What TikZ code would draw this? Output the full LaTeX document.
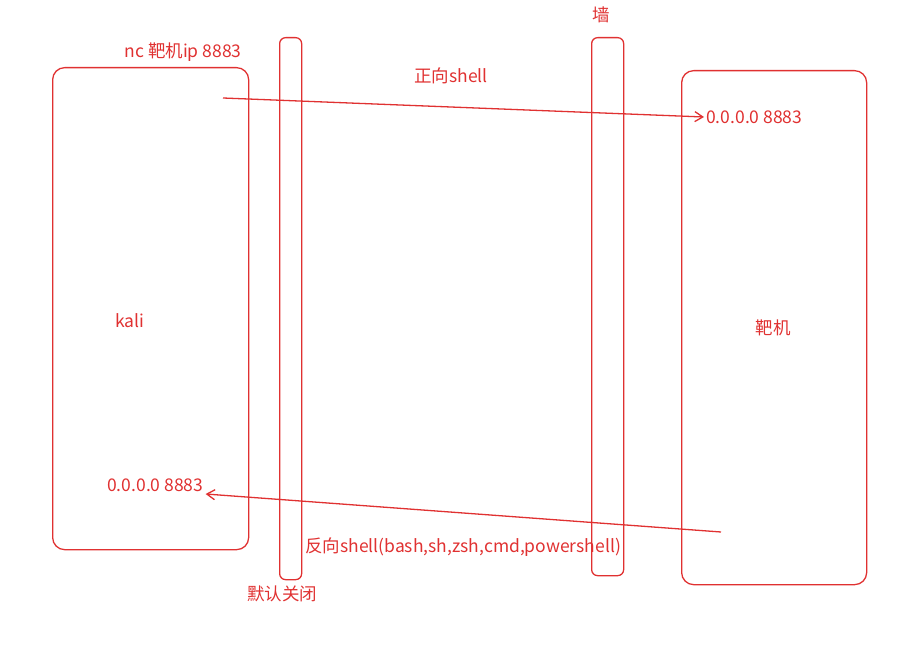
\documentclass[tikz,border=0pt]{standalone}
\usepackage{fontspec}
\setmainfont{Noto Sans CJK SC}
\usetikzlibrary{arrows.meta}
\definecolor{exred}{HTML}{E03131}
\begin{document}
\begin{tikzpicture}[x=1pt,y=-1pt,
  box/.style={draw=exred,line width=1.3pt,rounded corners=12pt,inner sep=0pt,anchor=north west},
  wall/.style={draw=exred,line width=1.3pt,rounded corners=6pt,inner sep=0pt,anchor=north west},
  lbl/.style={text=exred,font=\fontsize{17.5}{20}\selectfont,inner sep=0pt},
  conn/.style={draw=exred,line width=1.3pt,-{Straight Barb[length=8pt,width=10pt]}}]
\useasboundingbox (0,0) rectangle (916,650);
\node[box,minimum width=196pt,minimum height=482pt] (kali) at (52,67) {};
\node[wall,minimum width=22pt,minimum height=542pt] (w1) at (279,37) {};
\node[wall,minimum width=32pt,minimum height=538pt] (w2) at (591,37) {};
\node[box,minimum width=185pt,minimum height=514pt] (tgt) at (681,70) {};
\node[lbl] (nc) at (183,52) {nc 靶机ip 8883};
\node[lbl] (fwd) at (451,76) {正向shell};
\node[lbl,anchor=west] (tip) at (706,117) {0.0.0.0 8883};
\node[lbl] (wallt) at (601,15) {墙};
\node[lbl] (kalit) at (130,321) {kali};
\node[lbl] (tgtt) at (773,328) {靶机};
\node[lbl,anchor=west] (kip) at (107,485) {0.0.0.0 8883};
\node[lbl,anchor=west] (rev) at (305,547) {反向shell(bash,sh,zsh,cmd,powershell)};
\node[lbl] (off) at (282,594) {默认关闭};
\coordinate (a1) at (223,98);
\coordinate (b1) at (721,532);
\draw[conn] (a1) -- ([xshift=-2pt]tip.west);
\draw[conn] (b1) -- ([xshift=2pt,yshift=-9pt]kip.east);
\end{tikzpicture}
\end{document}
